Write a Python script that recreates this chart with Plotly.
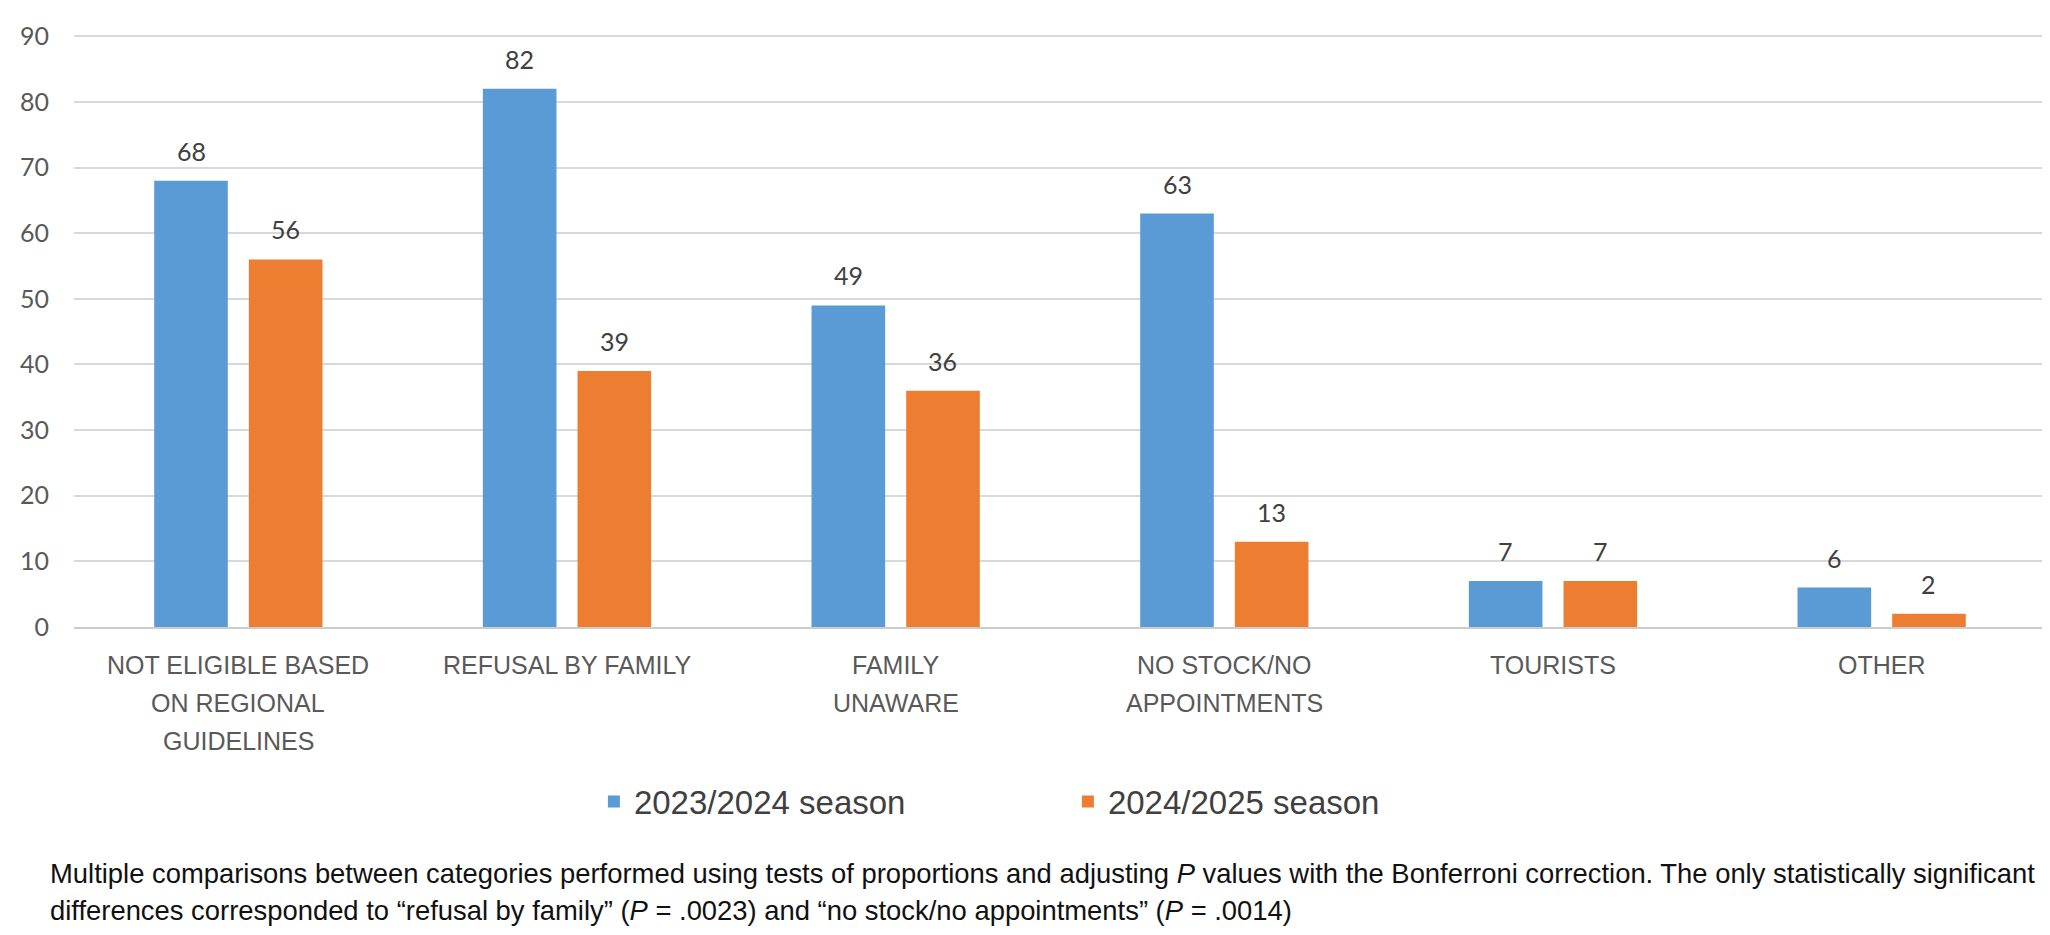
import plotly.graph_objects as go

categories = ["NOT ELIGIBLE BASED<br>ON REGIONAL<br>GUIDELINES", "REFUSAL BY FAMILY",
              "FAMILY<br>UNAWARE", "NO STOCK/NO<br>APPOINTMENTS", "TOURISTS", "OTHER"]
season_2023 = [68, 82, 49, 63, 7, 6]
season_2024 = [56, 39, 36, 13, 7, 2]
series_names = ["2023/2024 season", "2024/2025 season"]
y_ticks = [0, 10, 20, 30, 40, 50, 60, 70, 80, 90]
caption_1 = ("Multiple comparisons between categories performed using tests of proportions and adjusting "
             "<i>P</i> values with the Bonferroni correction. The only statistically significant")
caption_2 = ("differences corresponded to \u201crefusal by family\u201d (<i>P</i> = .0023) and "
             "\u201cno stock/no appointments\u201d (<i>P</i> = .0014)")

BLUE = "#5B9BD5"
ORANGE = "#ED7D31"
W = 0.224
OFF = 0.144
SANS = "Liberation Sans, Arial, sans-serif"
xs = list(range(len(categories)))

PLOT_TOP = 15
PLOT_BOTTOM = 619
PLOT_H = PLOT_BOTTOM - PLOT_TOP

fig = go.Figure()
fig.add_trace(go.Bar(x=xs, y=season_2023, name=series_names[0], marker_color=BLUE,
                     width=W, offset=-OFF - W / 2, marker_line_width=0))
fig.add_trace(go.Bar(x=xs, y=season_2024, name=series_names[1], marker_color=ORANGE,
                     width=W, offset=OFF - W / 2, marker_line_width=0))

# data labels
for i in xs:
    for val, d in ((season_2023[i], -OFF), (season_2024[i], OFF)):
        fig.add_annotation(x=i + d, y=val, text=str(val), showarrow=False, yanchor="bottom",
                           yshift=13, font=dict(family="Lato", size=25, color="#404040"))

# category labels (multi-line, wider line pitch than tick labels allow)
for i, lab in enumerate(categories):
    for k, line in enumerate(lab.split("<br>")):
        fig.add_annotation(x=i, xref="x", yref="paper", y=-(39 + 38.5 * k) / PLOT_H,
                           text=line, showarrow=False, yanchor="middle", xanchor="center",
                           font=dict(family=SANS, size=25, color="#595959"))

fig.add_annotation(xref="paper", yref="paper", x=-26 / 1980, y=-(871 - PLOT_BOTTOM) / PLOT_H,
                   text=caption_1, showarrow=False, xanchor="left", yanchor="middle", align="left",
                   font=dict(family=SANS, size=27.4, color="#111111"))
fig.add_annotation(xref="paper", yref="paper", x=-26 / 1980, y=-(908 - PLOT_BOTTOM) / PLOT_H,
                   text=caption_2, showarrow=False, xanchor="left", yanchor="middle", align="left",
                   font=dict(family=SANS, size=27.4, color="#111111"))

fig.update_layout(
    width=2050, height=935,
    margin=dict(l=58, r=12, t=PLOT_TOP, b=935 - PLOT_BOTTOM),
    plot_bgcolor="white", paper_bgcolor="white",
    showlegend=True,
    legend=dict(orientation="h", x=(580 - 58) / 1980, xanchor="left",
                y=-(797 - PLOT_BOTTOM) / PLOT_H, yanchor="middle",
                font=dict(family=SANS, size=33, color="#404040"),
                entrywidth=429, itemwidth=30),
    xaxis=dict(range=[-0.5, 5.5], tickmode="array", tickvals=xs, showticklabels=False,
               showgrid=False, showline=True, linecolor="#cccccc", linewidth=2, ticks="",
               zeroline=False, fixedrange=True),
    yaxis=dict(range=[0, 90.2], tickmode="array", tickvals=y_ticks, showgrid=True,
               gridcolor="#d9d9d9", gridwidth=1.8, zeroline=False, ticks="",
               ticklabelstandoff=24, fixedrange=True,
               tickfont=dict(family="Lato", size=25, color="#595959")),
)

fig.write_html("out.html")
